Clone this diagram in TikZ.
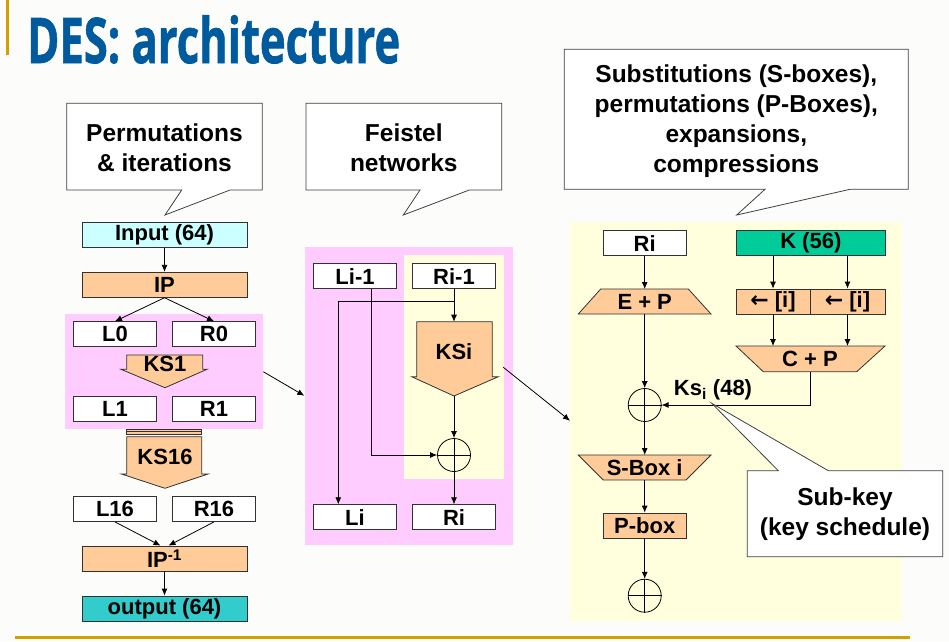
\documentclass[tikz,border=0pt]{standalone}
\usepackage{fontspec}
\usepackage{graphicx}
\setmainfont{Liberation Sans}
\newfontfamily\titlefont{Open Sans}[BoldFeatures={FakeBold=1.2}]
\newfontfamily\arrowfont{DejaVu Sans}
\usetikzlibrary{arrows.meta}

\definecolor{pagebg}{RGB}{252,252,250}
\definecolor{peach}{RGB}{255,204,153}
\definecolor{pinkbg}{RGB}{255,204,255}
\definecolor{yellowbg}{RGB}{255,255,221}
\definecolor{inputcol}{RGB}{204,255,255}
\definecolor{outputcol}{RGB}{51,204,204}
\definecolor{keycol}{RGB}{0,204,153}
\definecolor{titleblue}{RGB}{0,90,158}
\definecolor{gold}{RGB}{212,160,0}
\definecolor{edge}{RGB}{50,50,50}

\tikzset{
  box/.style={draw=edge, line width=0.8pt, inner sep=0pt, minimum width=83pt,
              minimum height=25pt, fill=white},
  widebox/.style={box, minimum width=165pt},
  shapefill/.style={draw=edge, line width=0.8pt, fill=peach},
  plain/.style={draw=black, line width=0.8pt},
  conn/.style={draw=black, line width=0.8pt, -{Latex[length=7pt,width=6pt]}},
  xor/.style={circle, draw=black, line width=0.8pt, minimum size=33pt, inner sep=0pt},
  bubble/.style={draw=black!75, line width=0.8pt, fill=white},
  bubbletext/.style={align=center, inner sep=0pt, font=\bfseries\fontsize{24.5}{30}\selectfont},
  txt/.style={inner sep=0pt}
}

\begin{document}
\begin{tikzpicture}[x=1pt, y=-1pt, font=\bfseries\fontsize{22}{24}\selectfont]
% page
\fill[pagebg] (0,0) rectangle (949,641);
\useasboundingbox (0,0) rectangle (949,641);
\fill[gold] (6,0) rectangle (8.5,55);
\fill[gold] (15,635.5) rectangle (910,639);

% title
\node[anchor=base west, inner sep=0pt, text=titleblue,
      font=\titlefont\bfseries\fontsize{63}{63}\selectfont] (title) at (27,63)
      {\resizebox{373pt}{\height}{DES: architecture}};

% panel backgrounds
\fill[pinkbg] (65,314) rectangle (263,429);
\fill[pinkbg] (305,246.7) rectangle (513.3,545);
\fill[yellowbg] (404,255) rectangle (504,479.3);
\fill[yellowbg] (570,221.7) rectangle (901.7,620.7);

% callouts
\draw[bubble] (66.7,103.3) -- (262.3,103.3) -- (262.3,190) -- (230,190) -- (165,215)
  -- (181.7,190) -- (66.7,190) -- cycle;
\node[bubbletext] (b1) at (164.5,148) {Permutations\\\& iterations};

\draw[bubble] (306,103.3) -- (501.7,103.3) -- (501.7,190) -- (469.3,190) -- (403.3,215)
  -- (420,190) -- (306,190) -- cycle;
\node[bubbletext] (b2) at (403.8,148) {Feistel\\networks};

\draw[bubble] (564.3,49.3) -- (908.3,49.3) -- (908.3,189.3) -- (850,189.3) -- (736.7,215)
  -- (765,189.3) -- (564.3,189.3) -- cycle;
\node[bubbletext] (b3) at (736.3,121.5)
  {Substitutions (S-boxes),\\permutations (P-Boxes),\\expansions,\\compressions};

% ---------- left column: overall structure ----------
\node[widebox, fill=inputcol] (input) at (164.5,235) {Input (64)};
\node[widebox, fill=peach] (ip) at (164.5,284.8) {IP};
\node[box] (l0) at (115,334.2) {L0};
\node[box] (r0) at (214,334.2) {R0};
\draw[shapefill] (126.7,355) -- (202.7,355) -- (202.7,369.3) -- (207,369.3) -- (165,387.7)
  -- (121,369.3) -- (126.7,369.3) -- cycle;
\node[txt] (ks1) at (165,364) {KS1};
\node[box] (l1) at (115,409) {L1};
\node[box] (r1) at (214,409) {R1};

% stacked rounds
\draw[shapefill] (126.7,429.3) rectangle (201.7,431.8);
\draw[shapefill] (126.7,431.8) rectangle (201.7,434.3);
\draw[shapefill] (126.7,436.7) -- (201.7,436.7) -- (201.7,474) -- (208,474) -- (165,488.3)
  -- (121.5,474) -- (126.7,474) -- cycle;
\node[txt] (ks16) at (165,457) {KS16};

\node[box] (l16) at (115,509) {L16};
\node[box] (r16) at (214,509) {R16};
\node[widebox, fill=peach] (ipinv) at (164.5,558.5) {IP\textsuperscript{-1}};
\node[widebox, fill=outputcol] (output) at (164.5,608.5) {output (64)};

\draw[conn] (input) -- (ip);
\draw[conn] (ip.south) -- (l0.north);
\draw[conn] (ip.south) -- (r0.north);
\draw[conn] (l16.south) -- ([xshift=-4pt]ipinv.north);
\draw[conn] (r16.south) -- ([xshift=4pt]ipinv.north);
\draw[conn] (ipinv) -- (output);

% links between panels
\coordinate (p1out) at (263.3,371.7);
\coordinate (p2in) at (304.3,395.7);
\coordinate (p2out) at (503.3,367.3);
\coordinate (p3in) at (570,420.7);
\draw[conn] (p1out) -- (p2in);
\draw[conn] (p2out) -- (p3in);

% ---------- middle: one Feistel round ----------
\node[box] (lim) at (355,276.2) {Li-1};
\node[box] (rim) at (454,276.2) {Ri-1};
\draw[shapefill] (416.7,321.7) -- (492.3,321.7) -- (492.3,376.7) -- (498.3,376.7) -- (454,396)
  -- (411.7,376.7) -- (416.7,376.7) -- cycle;
\node[txt] (ksi) at (454,351.7) {KSi};
\coordinate (ksitop) at (454,321.7);
\coordinate (ksitip) at (454,396);
\node[xor] (x1) at (454,455) {};
\draw[plain] (x1.north) -- (x1.south) (x1.west) -- (x1.east);
\node[box] (li) at (355,517.2) {Li};
\node[box] (ri) at (454,517.2) {Ri};
\coordinate (split) at (454,301.7);

\draw[plain] (rim.south) -- (split);
\draw[conn] (split) -- (ksitop);
\draw[conn] (split) -| ([xshift=-16.7pt]li.north);
\draw[conn] ([xshift=16.7pt]lim.south) |- (x1.west);
\draw[conn] (ksitip) -- (x1.north);
\draw[conn] (x1.south) -- (ri.north);

% ---------- right: round function and key schedule ----------
\node[box] (rr) at (644.7,243.2) {Ri};
\node[box, fill=keycol, minimum width=149.7pt] (key) at (810.8,243.2) {K (56)};

\draw[shapefill] (600.7,289) -- (688.3,289) -- (711,314) -- (578.3,314) -- cycle;
\node[txt] (ep) at (644.7,301.5) {E + P};
\coordinate (eptop) at (644.7,289);
\coordinate (epbot) at (644.7,314);

\node[box, fill=peach, minimum width=74pt] (sh1) at (773,301.5) {{\arrowfont\bfseries ←} [i]};
\node[box, fill=peach, minimum width=75pt] (sh2) at (847.5,301.5) {{\arrowfont\bfseries ←} [i]};

\draw[shapefill] (736,346) -- (885,346) -- (856.7,371.7) -- (763.3,371.7) -- cycle;
\node[txt] (cp) at (810,358.5) {C + P};
\coordinate (cptop) at (810,346);
\coordinate (cpbot) at (810,371.7);

\node[xor] (x2) at (644.7,405) {};
\draw[plain] (x2.north) -- (x2.south) (x2.west) -- (x2.east);
\node[txt, anchor=base] (ks) at (713,395) {Ks\textsubscript{i} (48)};

\draw[shapefill] (578.3,455) -- (711,455) -- (686,480) -- (603.3,480) -- cycle;
\node[txt] (sbox) at (644.7,467.5) {S-Box i};
\coordinate (sbtop) at (644.7,455);
\coordinate (sbbot) at (644.7,480);

\node[box, fill=peach] (pbox) at (644.7,525.5) {P-box};
\node[xor] (x3) at (644.7,595.7) {};
\draw[plain] (x3.north) -- (x3.south) (x3.west) -- (x3.east);

\draw[conn] (rr) -- (eptop);
\draw[conn] (key.south -| sh1) -- (sh1.north);
\draw[conn] (key.south -| sh2) -- (sh2.north);
\draw[conn] (sh1.south) -- (sh1.south |- cptop);
\draw[conn] (sh2.south) -- (sh2.south |- cptop);
\draw[conn] (epbot) -- (x2.north);
\draw[conn] (cpbot) |- (x2.east);
\draw[conn] (x2.south) -- (sbtop);
\draw[conn] (sbbot) -- (pbox.north);
\draw[conn] (pbox.south) -- (x3.north);

% sub-key callout
\draw[bubble] (747.3,470.7) -- (778.3,470.7) -- (711.7,403.3) -- (828.3,470.7) -- (942.7,470.7)
  -- (942.7,556.7) -- (747.3,556.7) -- cycle;
\node[bubbletext] (b4) at (845,514) {Sub-key\\(key schedule)};
\end{tikzpicture}
\end{document}
